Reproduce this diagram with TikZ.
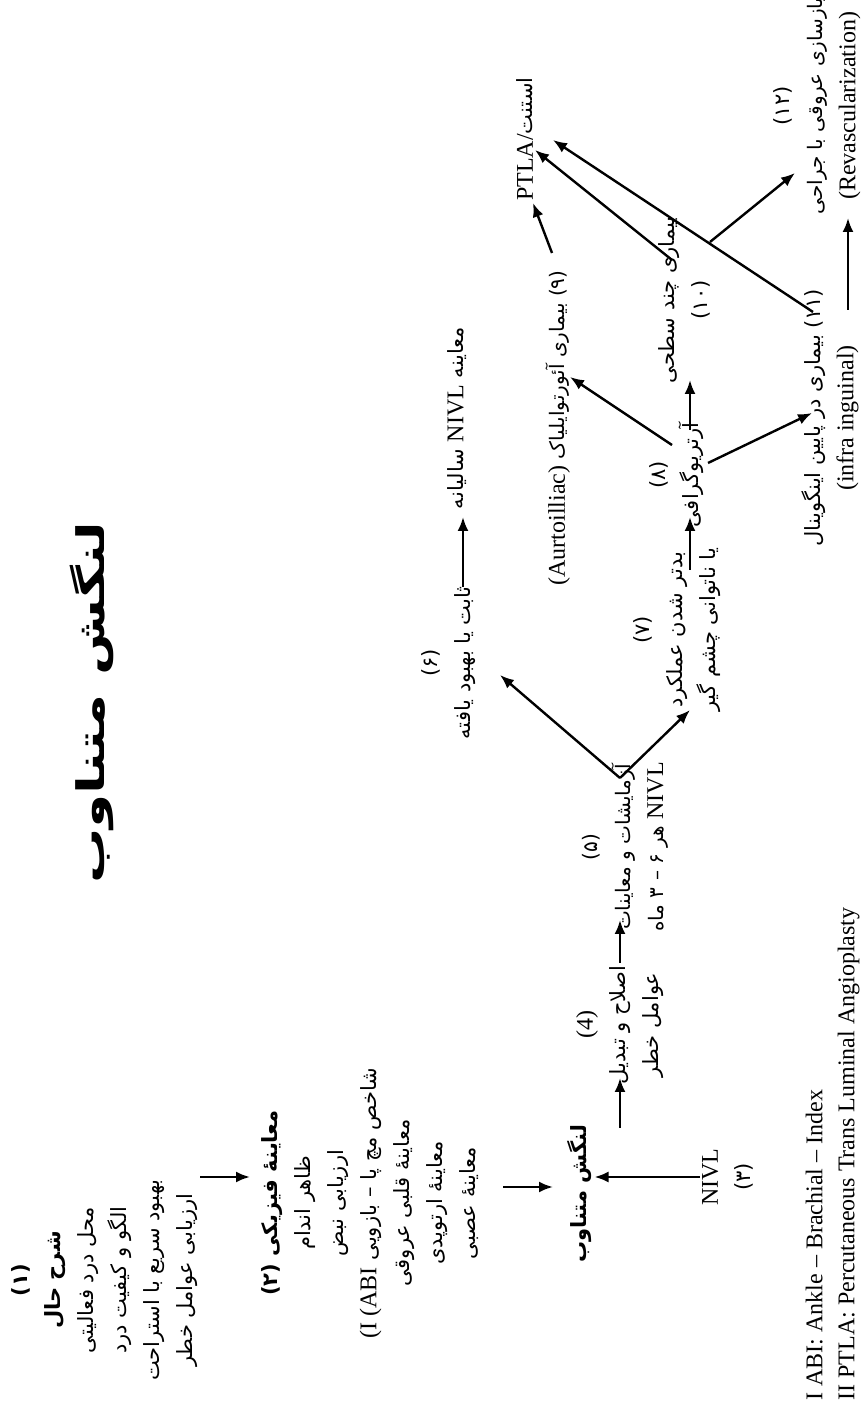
\documentclass[tikz,border=0pt]{standalone}
\usepackage{fontspec}
\setmainfont{Liberation Serif}
\newfontfamily\farsi[Script=Arabic]{DejaVu Sans}
\TeXXeTstate=1
\usetikzlibrary{arrows.meta,calc}
\newcommand{\fa}[1]{{\farsi\beginR #1\endR}}
\newcommand{\en}[1]{{\rmfamily\fontsize{12}{16}\selectfont\beginL #1\endL}}
\tikzset{
  fatext/.style={align=center, inner sep=1pt, font=\fontsize{10.5}{16.5}\selectfont},
  entext/.style={align=left, inner sep=1pt, font=\fontsize{12}{16}\selectfont},
  flow/.style={->, line width=1.2pt},
}
\begin{document}
\begin{tikzpicture}[x=0.5pt, y=-0.5pt, rotate=90, transform shape,
  >={Latex[length=7pt,width=5.5pt]}]
	\useasboundingbox (0,0) rectangle (1408,863);
	
	%title
	\node[fatext, font=\fontsize{19}{22}\selectfont] (title) at (705,92) {\scalebox{1.45}[1]{\fa{\bfseries لنگش متناوب}}};
	
	%first column
	\node[fatext] (hist) at (128,105) {\fa{\bfseries (۱)}\\ \fa{\bfseries شرح حال}\\ \fa{محل درد فعالیتی}\\ \fa{الگو و کیفیت درد}\\ \fa{بهبود سریع با استراحت}\\ \fa{ارزیابی عوامل خطر}};
	\node[fatext] (exam) at (205,370) {\fa{\bfseries معاینهٔ فیزیکی (۲)}\\ \fa{ظاهر اندام}\\ \fa{ارزیابی نبض}\\ \fa{شاخص مچ پا – بازویی \en{(I (ABI}}\\ \fa{معاینهٔ قلبی عروقی}\\ \fa{معاینهٔ ارتوپدی}\\ \fa{معاینهٔ عصبی}};
	\node[fatext] (claud) at (214,580) {\fa{\bfseries لنگش متناوب}};
	\node[fatext] (nivl3) at (231,728) {\en{NIVL}\\ \fa{(۳)}};
	
	%follow up
	\node[fatext] (risk) at (383,620) {\en{(4)}\\ \fa{اصلاح و تبدیل}\\ \fa{عوامل خطر}};
	\node[fatext, font=\fontsize{10}{16.5}\selectfont] (tests) at (561,625) {\fa{(۵)}\\ \fa{آزمایشات و معاینات}\\ \fa{\en{NIVL} هر ۶ – ۳ ماه}};
	\coordinate (fork) at (630,620);
	\node[fatext] (stable) at (745,449) {\fa{(۶)}\\ \fa{ثابت یا بهبود یافته}};
	\node[fatext] (yearly) at (990,457) {\fa{معاینه \en{NIVL} سالیانه}};
	\node[fatext] (worse) at (778,677) {\fa{(۷)}\\ \fa{بدتر شدن عملکرد}\\ \fa{یا ناتوانی چشم گیر}};
	
	%arteriography
	\node[fatext] (arterio) at (933,677) {\fa{(۸)}\\ \fa{آرتریوگرافی}};
	\node[fatext, font=\fontsize{10}{16.5}\selectfont] (aorto) at (980,558) {\fa{(۹) بیماری آئورتوایلیاک \en{(Aurtoilliac)}}};
	\node[fatext] (multi) at (1108,684) {\fa{بیماری چند سطحی}\\ \fa{(۱۰)}};
	\node[fatext] (infra) at (990,830) {\fa{(۱۱) بیماری در پایین اینگوینال}\\ \en{(infra inguinal)}};
	
	%treatment
	\node[entext] (ptla) at (1269,525) {PTLA/{\farsi\fontsize{10.5}{12}\selectfont استنت}};
	\node[fatext] (surg) at (1302,817) {\fa{(۱۲)}\\ {\fontsize{10}{16.5}\selectfont\fa{بازسازی عروقی با جراحی}}\\ \en{(Revascularization)}};
	
	%notes
	\node[entext, anchor=south west] (notes) at (5,862) {I ABI: Ankle – Brachial – Index\\ II PTLA: Percutaneous Trans Luminal Angioplasty};
	
	%arrows
	\draw[flow] ($(hist)+(103,95)$) -- ($(exam)+(26,-120)$);
	\draw[flow] ($(exam)+(16,133)$) -- ($(claud)+(7,-27)$);
	\draw[flow] (nivl3.north) -- (claud.south -| nivl3.north);
	\draw[flow] ($(claud)+(66,40)$) -- ($(risk)+(-53,0)$);
	\draw[flow] ($(risk)+(62,0)$) -- ($(tests)+(-73,-5)$);
	\draw[flow] (fork) -- ($(stable)+(-12,51)$);
	\draw[flow] (fork) -- ($(worse)+(-80,13)$);
	\draw[flow] ($(stable)+(76,14)$) -- ($(yearly)+(-99,6)$);
	\draw[flow] ($(worse)+(60,13)$) -- ($(arterio)+(-42,13)$);
	\draw[flow] ($(arterio)+(30,-5)$) -- ($(aorto)+(51,12)$);
	\draw[flow] ($(arterio)+(45,13)$) -- ($(multi)+(-80,6)$);
	\draw[flow] ($(arterio)+(12,31)$) -- ($(infra)+(5,-18)$);
	\draw[flow] ($(aorto)+(175,-6)$) -- ($(ptla)+(-64,8)$);
	\draw[flow] ($(multi)+(40,-12)$) -- ($(ptla)+(-11,10)$);
	\draw[flow] ($(infra)+(106,-17)$) -- ($(ptla)+(-1,28)$);
	\draw[flow] ($(multi)+(58,26)$) -- ($(surg)+(-67,-22)$);
	\draw[flow] ($(infra)+(108,18)$) -- ($(surg)+(-112,31)$);
	\end{tikzpicture}
\end{document}
